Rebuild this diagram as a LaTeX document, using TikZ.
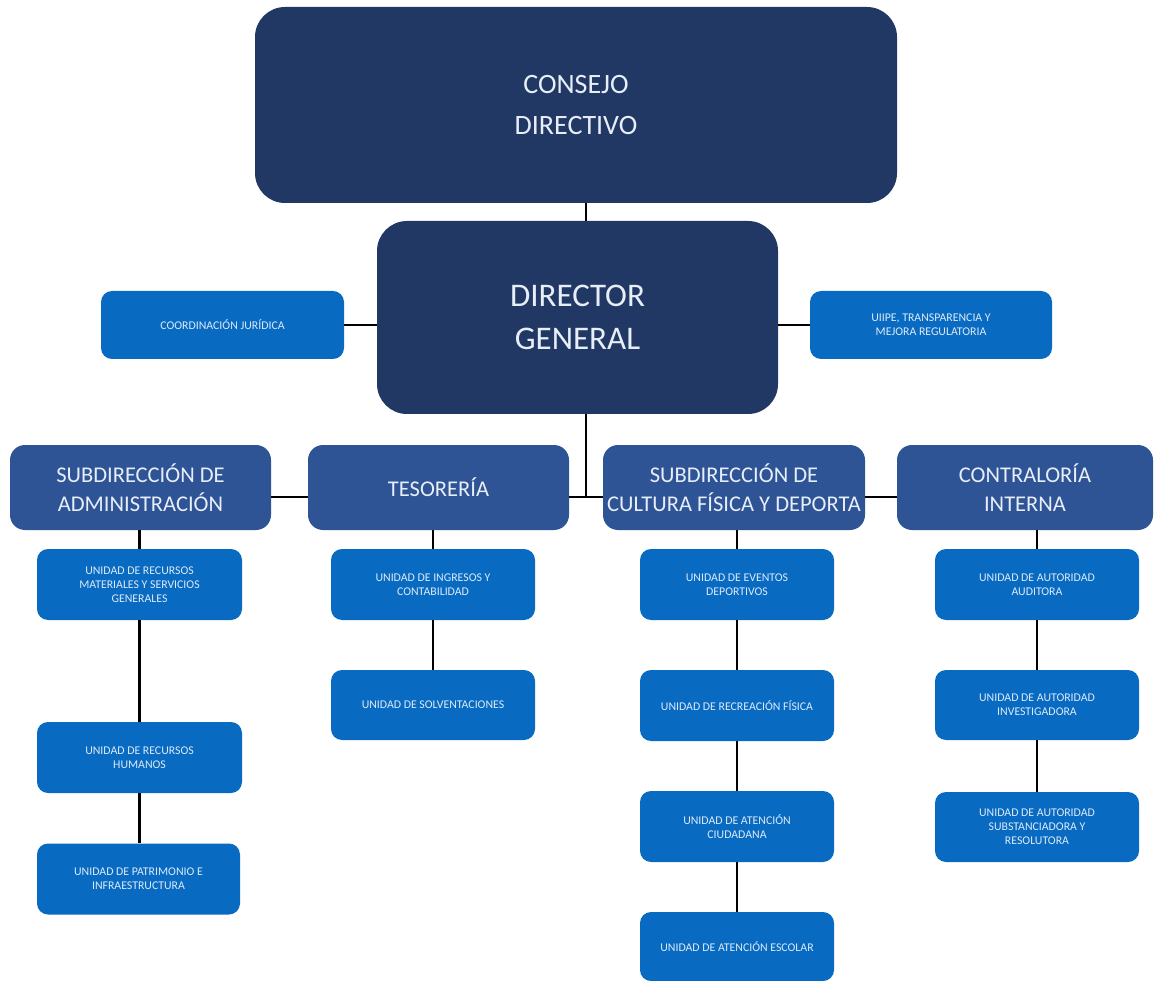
\documentclass[tikz,border=0pt]{standalone}
\usepackage{fontspec}
\setmainfont{Carlito}
\definecolor{navy}{RGB}{34,56,100}
\definecolor{midblue}{RGB}{46,84,150}
\definecolor{brightblue}{RGB}{8,107,193}
\definecolor{bigtext}{RGB}{232,238,248}
\definecolor{smalltext}{RGB}{222,234,250}
\tikzset{
  topbox/.style={fill=navy, rounded corners=30pt, text=bigtext, align=center, inner sep=0pt},
  subbox/.style={fill=midblue, rounded corners=15pt, text=bigtext, align=center, inner sep=0pt,
     minimum width=261pt, minimum height=85pt, font=\fontsize{22.5}{29}\selectfont},
  unitbox/.style={fill=brightblue, rounded corners=11pt, text=smalltext, align=center, inner sep=0pt,
     minimum width=205pt, minimum height=71pt, font=\fontsize{11.8}{14}\selectfont},
  conn/.style={draw=black, line width=2.6pt}
}
\begin{document}
\begin{tikzpicture}[x=1pt,y=-1pt]
\useasboundingbox (0,0) rectangle (1154,981);
\fill[white] (0,0) rectangle (1154,981);

% top levels
\node[topbox, minimum width=642pt, minimum height=196pt, font=\fontsize{28}{41}\selectfont] (consejo) at (576,105) {CONSEJO\\DIRECTIVO};
\node[topbox, minimum width=401pt, minimum height=193pt, font=\fontsize{33}{43}\selectfont] (director) at (577.5,317.5) {DIRECTOR\\GENERAL};
\node[unitbox, minimum width=243pt, minimum height=68pt] (coord) at (222.5,325) {COORDINACIÓN JURÍDICA};
\node[unitbox, minimum width=242pt, minimum height=68pt] (uiipe) at (931,325) {UIIPE, TRANSPARENCIA Y\\MEJORA REGULATORIA};

% second level
\node[subbox] (admin) at (140.5,487.5) {SUBDIRECCIÓN DE\\ADMINISTRACIÓN};
\node[subbox] (teso) at (438.5,487.5) {TESORERÍA};
\node[subbox, minimum width=262pt] (cult) at (734,487.5) {SUBDIRECCIÓN DE\\CULTURA FÍSICA Y DEPORTA};
\node[subbox, minimum width=256pt] (contra) at (1025,487.5) {CONTRALORÍA\\INTERNA};

% units
\node[unitbox] (mat) at (139.5,584.5) {UNIDAD DE RECURSOS\\MATERIALES Y SERVICIOS\\GENERALES};
\node[unitbox] (rh) at (139.5,757.5) {UNIDAD DE RECURSOS\\HUMANOS};
\node[unitbox, minimum width=203pt] (pat) at (138.5,879) {UNIDAD DE PATRIMONIO E\\INFRAESTRUCTURA};

\node[unitbox, minimum width=204pt] (ing) at (433,584.5) {UNIDAD DE INGRESOS Y\\CONTABILIDAD};
\node[unitbox, minimum width=204pt, minimum height=70pt] (solv) at (433,705) {UNIDAD DE SOLVENTACIONES};

\node[unitbox, minimum width=194pt] (ev) at (737,584.5) {UNIDAD DE EVENTOS\\DEPORTIVOS};
\node[unitbox, minimum width=194pt] (rec) at (737,705.5) {UNIDAD DE RECREACIÓN FÍSICA};
\node[unitbox, minimum width=194pt] (ciu) at (737,826.5) {UNIDAD DE ATENCIÓN\\CIUDADANA};
\node[unitbox, minimum width=194pt, minimum height=69pt] (esc) at (737,946.5) {UNIDAD DE ATENCIÓN ESCOLAR};

\node[unitbox, minimum width=204pt] (aud) at (1037,584.5) {UNIDAD DE AUTORIDAD\\AUDITORA};
\node[unitbox, minimum width=204pt, minimum height=70pt] (inv) at (1037,705) {UNIDAD DE AUTORIDAD\\INVESTIGADORA};
\node[unitbox, minimum width=204pt, minimum height=70pt] (sub) at (1037,827) {UNIDAD DE AUTORIDAD\\SUBSTANCIADORA Y\\RESOLUTORA};

% connectors
\coordinate (spine) at (586,497);
\draw[conn] (consejo.south -| spine) -- (director.north -| spine);
\draw[conn] (director.south -| spine) -- (spine);
\draw[conn] (coord.east) -- (coord.east -| director.west);
\draw[conn] (uiipe.west) -- (uiipe.west -| director.east);
\draw[conn] (admin.east |- spine) -- (teso.west |- spine);
\draw[conn] (teso.east |- spine) -- (cult.west |- spine);
\draw[conn] (cult.east |- spine) -- (contra.west |- spine);

\draw[conn] (admin.south -| mat.north) -- (mat.north);
\draw[conn] (mat.south) -- (rh.north);
\draw[conn] (rh.south) -- (rh.south |- pat.north);

\draw[conn] (teso.south -| ing.north) -- (ing.north);
\draw[conn] (ing.south) -- (solv.north);

\draw[conn] (cult.south -| ev.north) -- (ev.north);
\draw[conn] (ev.south) -- (rec.north);
\draw[conn] (rec.south) -- (ciu.north);
\draw[conn] (ciu.south) -- (esc.north);

\draw[conn] (contra.south -| aud.north) -- (aud.north);
\draw[conn] (aud.south) -- (inv.north);
\draw[conn] (inv.south) -- (sub.north);
\end{tikzpicture}
\end{document}
